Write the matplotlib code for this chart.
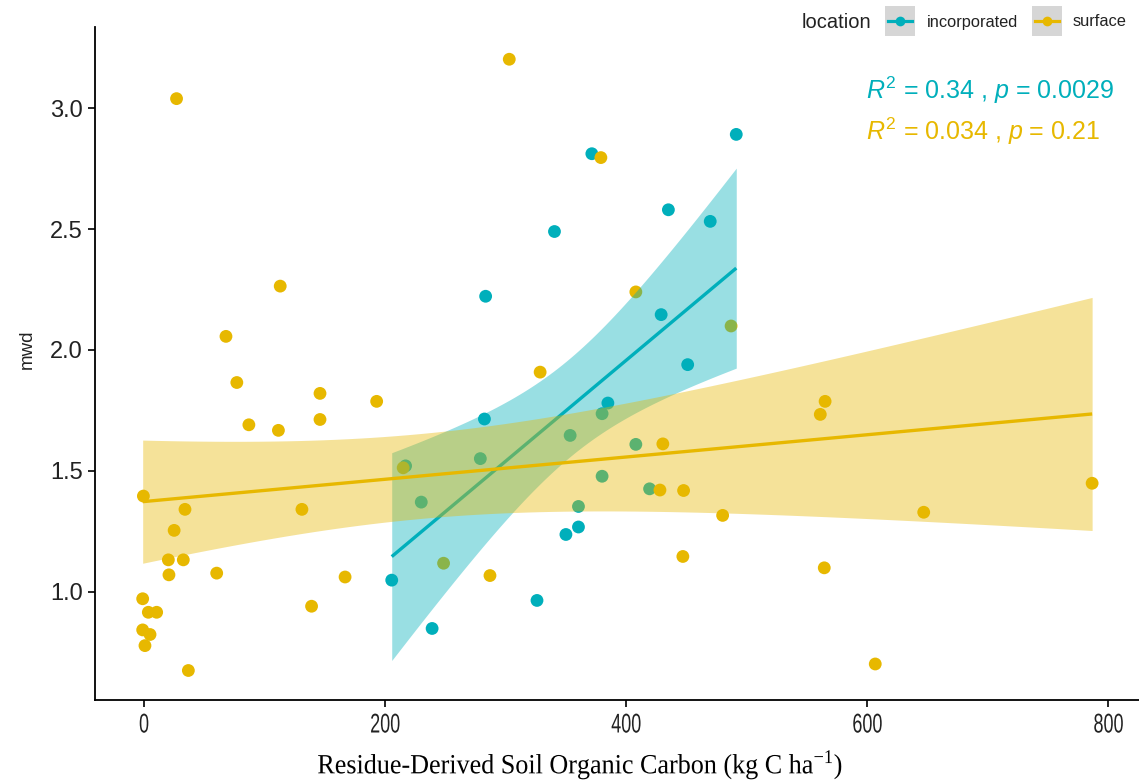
import math
import numpy as np
import matplotlib
matplotlib.use("Agg")
import matplotlib.pyplot as plt
from matplotlib.patches import Rectangle
from matplotlib.lines import Line2D
from matplotlib.patheffects import AbstractPathEffect
from matplotlib.transforms import Affine2D

# ---------------- data ----------------
inc_x = [491.3, 371.5, 435.0, 469.7, 340.5, 283.4, 429.0, 451.0, 384.8, 282.4,
         350.0, 360.4, 205.5, 326.0, 239.0, 279.0, 230.0, 380.0, 353.5, 408.0,
         380.0, 419.4, 360.4, 217.0]
inc_y = [2.892, 2.812, 2.580, 2.532, 2.490, 2.222, 2.146, 1.939, 1.780, 1.714,
         1.236, 1.267, 1.047, 0.963, 0.847, 1.550, 1.370, 1.736, 1.646, 1.609,
         1.477, 1.425, 1.352, 1.520]

sur_x = [27.0, 303.0, 113.0, 68.0, 77.0, 146.0, 193.0, 87.0, 111.5, 146.0,
         -0.5, 34.0, 131.0, 25.0, 20.2, 32.6, 20.7, 60.3, 166.8, -1.1,
         3.6, 10.5, -1.1, 5.0, 0.8, 139.0, 36.8, 379.0, 408.0, 487.0,
         328.6, 215.0, 248.5, 287.0, 430.4, 428.0, 447.6, 480.0, 447.0, 565.0,
         561.0, 786.5, 646.8, 564.3, 606.6]
sur_y = [3.040, 3.203, 2.264, 2.056, 1.865, 1.820, 1.787, 1.690, 1.667, 1.712,
         1.395, 1.340, 1.340, 1.253, 1.131, 1.131, 1.069, 1.076, 1.060, 0.970,
         0.914, 0.914, 0.841, 0.822, 0.776, 0.939, 0.673, 2.796, 2.240, 2.099,
         1.908, 1.512, 1.117, 1.066, 1.611, 1.420, 1.418, 1.315, 1.145, 1.787,
         1.733, 1.448, 1.328, 1.098, 0.700]

groups = ["incorporated", "surface"]
colors = {"incorporated": "#00AFBB", "surface": "#E7B800"}
r2_text = {"incorporated": "0.34", "surface": "0.034"}
p_text = {"incorporated": "0.0029", "surface": "0.21"}
x_ticks = [0, 200, 400, 600, 800]
y_ticks = [1.0, 1.5, 2.0, 2.5, 3.0]


def t_quantile(p, df):
    try:
        from scipy.stats import t as tdist
        return float(tdist.ppf(p, df))
    except Exception:
        c = math.gamma((df + 1) / 2) / (math.sqrt(df * math.pi) * math.gamma(df / 2))
        def cdf(v):
            xs = np.linspace(0, v, 4001)
            pdf = c * (1 + xs ** 2 / df) ** (-(df + 1) / 2)
            return 0.5 + np.trapezoid(pdf, xs)
        lo, hi = 0.0, 10.0
        for _ in range(60):
            mid = (lo + hi) / 2
            if cdf(mid) < p:
                lo = mid
            else:
                hi = mid
        return (lo + hi) / 2


def lm_band(x, y, n_grid=80):
    x = np.asarray(x, float)
    y = np.asarray(y, float)
    n = len(x)
    b1, b0 = np.polyfit(x, y, 1)
    resid = y - (b0 + b1 * x)
    s = math.sqrt(np.sum(resid ** 2) / (n - 2))
    xm = x.mean()
    sxx = np.sum((x - xm) ** 2)
    g = np.linspace(x.min(), x.max(), n_grid)
    fit = b0 + b1 * g
    se = s * np.sqrt(1 / n + (g - xm) ** 2 / sxx)
    tq = t_quantile(0.975, n - 2)
    return g, fit, fit - tq * se, fit + tq * se


class Squeeze(AbstractPathEffect):
    """Draw text glyphs horizontally condensed around their centre."""
    def __init__(self, sx):
        super().__init__()
        self.sx = sx

    def draw_path(self, renderer, gc, tpath, affine, rgbFace=None):
        ext = tpath.get_extents()
        cx = (ext.x0 + ext.x1) / 2
        t = Affine2D().translate(-cx, 0).scale(self.sx, 1).translate(cx, 0) + affine
        renderer.draw_path(gc, tpath, t, rgbFace)


# ---------------- figure ----------------
W, H = 1139, 784
fig = plt.figure(figsize=(W / 100, H / 100), dpi=100)
fig.patch.set_facecolor("white")
plt.rcParams["mathtext.fontset"] = "custom"
plt.rcParams["mathtext.it"] = "Liberation Sans:italic"
plt.rcParams["mathtext.rm"] = "Liberation Sans"


def fx(px):
    return px / W


def fy(py):
    return 1 - py / H


ax = fig.add_axes([fx(95), fy(700), fx(1139) - fx(95), fy(27) - fy(700)])
ax.set_facecolor("white")

data = {"incorporated": (inc_x, inc_y), "surface": (sur_x, sur_y)}

# points first (as in ggplot), then smooth layers on top
for gname in groups:
    gx, gy = data[gname]
    ax.scatter(gx, gy, s=85, color=colors[gname], edgecolors="none", zorder=2)

zo = 3
for gname in groups:
    gx, gy = data[gname]
    g, fit, lo, hi = lm_band(gx, gy)
    ax.fill_between(g, lo, hi, color=colors[gname], alpha=0.4, linewidth=0, zorder=zo)
    ax.plot(g, fit, color=colors[gname], lw=2.4, zorder=zo + 1, solid_capstyle="butt")
    zo += 2

ax.set_xlim((95 - 144) / 1.2055, (1139 - 144) / 1.2055)
ax.set_ylim(1 + (591.5 - 700) / 241.6, 1 + (591.5 - 27) / 241.6)

for side in ["top", "right"]:
    ax.spines[side].set_visible(False)
for side in ["left", "bottom"]:
    ax.spines[side].set_linewidth(1.3)
    ax.spines[side].set_color("black")

ax.set_xticks(x_ticks)
ax.set_yticks(y_ticks)
ax.set_yticklabels([f"{v:.1f}" for v in y_ticks])
ax.tick_params(axis="both", direction="out", length=5, width=1.2, color="black")

ax.set_xticklabels([str(v) for v in x_ticks], fontsize=19.5,
                   family=["Liberation Sans", "DejaVu Sans"], color="#222222")
for lab in ax.get_xticklabels():
    lab.set_path_effects([Squeeze(0.665)])
for lab in ax.get_yticklabels():
    lab.set_fontsize(17)
    lab.set_family(["Liberation Sans", "DejaVu Sans"])
    lab.set_color("#222222")
ax.tick_params(axis="x", pad=4)
ax.tick_params(axis="y", pad=4)

# axis titles
fig.text(fx(27), fy(349), "mwd", rotation=90, ha="center", va="center",
         fontsize=13.5, family=["Liberation Sans", "DejaVu Sans"], color="#222222")
xl = fig.text(fx(580), fy(765),
              r"Residue-Derived Soil Organic Carbon (kg C ha$^{\mathregular{-1}}$)",
              ha="center", va="center", fontsize=20,
              family=["Liberation Serif", "DejaVu Serif"], color="black")
xl.set_path_effects([Squeeze(0.94)])

# correlation annotations
for gname, ypx in zip(groups, [90, 131]):
    fig.text(fx(866), fy(ypx),
             rf"$\it{{R}}^{{\mathrm{{2}}}}$ = {r2_text[gname]} , $\it{{p}}$ = {p_text[gname]}",
             ha="left", va="center", fontsize=18, color=colors[gname],
             family=["Liberation Sans", "DejaVu Sans"])

# legend (manual, ggplot style)
fig.text(fx(802), fy(22), "location", ha="left", va="center", fontsize=14.5,
         family=["Liberation Sans", "DejaVu Sans"], color="#222222")
for gname, bx, tx in zip(groups, [885, 1032], [927, 1073]):
    fig.patches.append(Rectangle((fx(bx), fy(36)), fx(30), fy(6) - fy(36),
                                 transform=fig.transFigure, facecolor="#D6D6D6",
                                 edgecolor="none", zorder=1))
    fig.lines.append(Line2D([fx(bx + 3), fx(bx + 27)], [fy(21), fy(21)],
                            transform=fig.transFigure, color=colors[gname], lw=2.3, zorder=2))
    fig.lines.append(Line2D([fx(bx + 15)], [fy(21)], transform=fig.transFigure,
                            color=colors[gname], marker="o", markersize=7,
                            markeredgewidth=0, linestyle="none", zorder=3))
    fig.text(fx(tx), fy(22), gname, ha="left", va="center", fontsize=11.8,
             family=["Liberation Sans", "DejaVu Sans"], color="#222222")

fig.savefig("out.png", dpi=100, facecolor="white")
